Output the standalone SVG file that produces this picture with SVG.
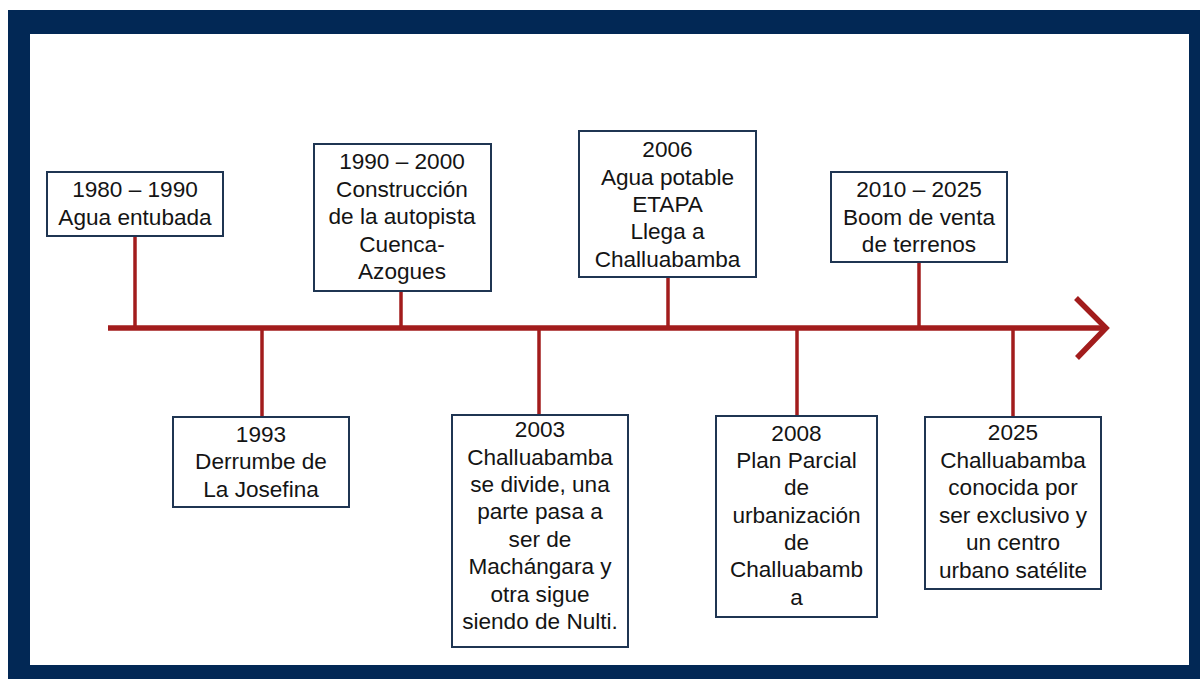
<svg xmlns="http://www.w3.org/2000/svg" width="1200" height="679" viewBox="0 0 1200 679">
<style>
.frame{fill:#022855}
.box{fill:#ffffff;stroke:#1f3552;stroke-width:2}
.t{font-family:"Liberation Sans",Arial,sans-serif;font-size:22.6px;fill:#141414;text-anchor:middle}
.v{stroke:#a21c1c;stroke-width:3.5;fill:none}
.h{stroke:#a21c1c;stroke-width:5.5;fill:none}
</style>
<rect width="1200" height="679" fill="#ffffff"/>
<rect class="frame" x="8" y="10" width="1192" height="669"/>
<rect x="30" y="34" width="1159" height="631" fill="#ffffff"/>
<g id="connectors">
<line class="h" x1="108" y1="328" x2="1104" y2="328"/>
<polyline class="h" points="1076,298 1106,328 1077,358" stroke-linecap="butt"/>
<line class="v" x1="135" y1="236" x2="135" y2="328"/>
<line class="v" x1="262" y1="328" x2="262" y2="417"/>
<line class="v" x1="401" y1="291" x2="401" y2="328"/>
<line class="v" x1="539" y1="328" x2="539" y2="415"/>
<line class="v" x1="668" y1="277" x2="668" y2="328"/>
<line class="v" x1="797" y1="328" x2="797" y2="416"/>
<line class="v" x1="919" y1="262" x2="919" y2="328"/>
<line class="v" x1="1013" y1="328" x2="1013" y2="417"/>
</g>
<g id="n1980">
<rect class="box" x="47" y="172" width="176" height="64"/>
<text class="t" x="135" y="197">1980 – 1990</text>
<text class="t" x="135" y="225">Agua entubada</text>
</g>
<g id="n1993">
<rect class="box" x="173" y="417" width="176" height="90"/>
<text class="t" x="261" y="442">1993</text>
<text class="t" x="261" y="469">Derrumbe de</text>
<text class="t" x="261" y="497">La Josefina</text>
</g>
<g id="n1990">
<rect class="box" x="314" y="144" width="177" height="147"/>
<text class="t" x="402" y="169">1990 – 2000</text>
<text class="t" x="402" y="197">Construcción</text>
<text class="t" x="402" y="224">de la autopista</text>
<text class="t" x="402" y="252">Cuenca-</text>
<text class="t" x="402" y="279">Azogues</text>
</g>
<g id="n2003">
<rect class="box" x="452" y="415" width="176" height="232"/>
<text class="t" x="540" y="437">2003</text>
<text class="t" x="540" y="465">Challuabamba</text>
<text class="t" x="540" y="492">se divide, una</text>
<text class="t" x="540" y="519">parte pasa a</text>
<text class="t" x="540" y="547">ser de</text>
<text class="t" x="540" y="574">Machángara y</text>
<text class="t" x="540" y="602">otra sigue</text>
<text class="t" x="540" y="629">siendo de Nulti.</text>
</g>
<g id="n2006">
<rect class="box" x="579" y="131" width="177" height="146"/>
<text class="t" x="667.5" y="157">2006</text>
<text class="t" x="667.5" y="185">Agua potable</text>
<text class="t" x="667.5" y="212">ETAPA</text>
<text class="t" x="667.5" y="239">Llega a</text>
<text class="t" x="667.5" y="267">Challuabamba</text>
</g>
<g id="n2008">
<rect class="box" x="716" y="416" width="161" height="201"/>
<text class="t" x="796.5" y="441">2008</text>
<text class="t" x="796.5" y="468">Plan Parcial</text>
<text class="t" x="796.5" y="495">de</text>
<text class="t" x="796.5" y="523">urbanización</text>
<text class="t" x="796.5" y="550">de</text>
<text class="t" x="796.5" y="577">Challuabamb</text>
<text class="t" x="796.5" y="605">a</text>
</g>
<g id="n2010">
<rect class="box" x="831" y="172" width="176" height="90"/>
<text class="t" x="919" y="197">2010 – 2025</text>
<text class="t" x="919" y="225">Boom de venta</text>
<text class="t" x="919" y="252">de terrenos</text>
</g>
<g id="n2025">
<rect class="box" x="925" y="417" width="176" height="172"/>
<text class="t" x="1013" y="440">2025</text>
<text class="t" x="1013" y="468">Challuabamba</text>
<text class="t" x="1013" y="495">conocida por</text>
<text class="t" x="1013" y="523">ser exclusivo y</text>
<text class="t" x="1013" y="550">un centro</text>
<text class="t" x="1013" y="578">urbano satélite</text>
</g>
</svg>
